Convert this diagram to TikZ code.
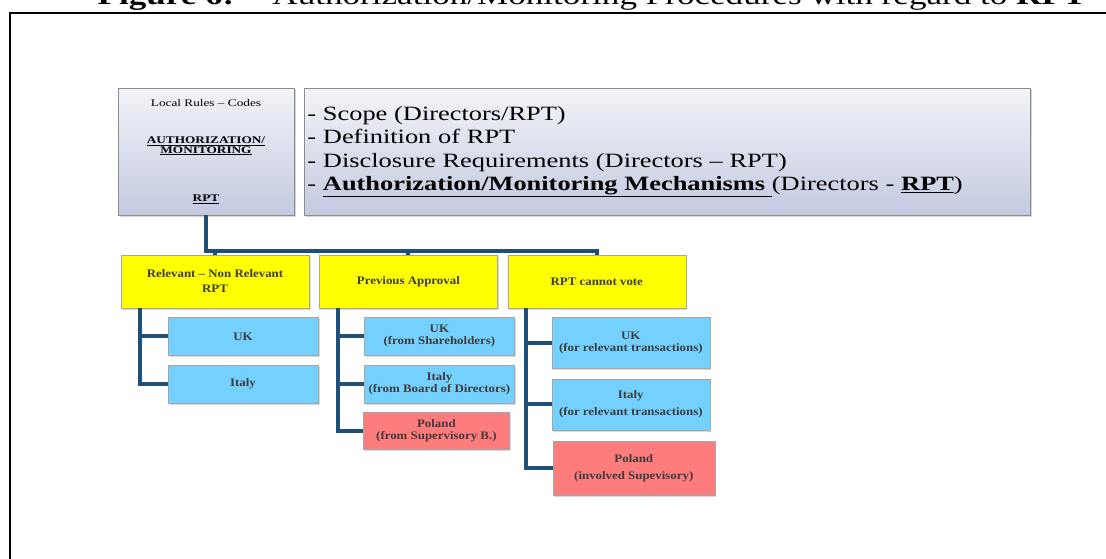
\documentclass[tikz,border=0pt]{standalone}
\usepackage{fontspec}
\setmainfont[FakeStretch=1.3]{Liberation Serif}
\newfontfamily\boxfont[FakeStretch=1.12]{Liberation Serif}
\usetikzlibrary{positioning, shadows}

\definecolor{linkblue}{RGB}{31,78,121}
\definecolor{headfill}{RGB}{255,255,0}
\definecolor{countryfill}{RGB}{116,208,255}
\definecolor{polandfill}{RGB}{255,124,124}
\definecolor{topfill}{RGB}{243,244,249}
\definecolor{bottomfill}{RGB}{195,202,224}
\definecolor{boxtext}{RGB}{60,60,60}

\begin{document}
\begin{tikzpicture}[x=1pt, y=-1pt]

\useasboundingbox (0,0) rectangle (1106,558);
\clip (0,0) rectangle (1106,558);

\tikzstyle{link} = [line width=4pt, draw=linkblue]
\tikzset{topbox/.style = {rectangle, draw=black!45, top color=topfill, bottom color=bottomfill, minimum height=127pt, drop shadow={shadow xshift=1.5pt, shadow yshift=-2pt, opacity=0.35}}, }
\tikzset{headbox/.style = {rectangle, draw=black!35, fill=headfill, text=boxtext, align=center, minimum width=178pt, minimum height=53pt, font=\boxfont\fontsize{11.5}{15}\selectfont\bfseries, drop shadow={shadow xshift=1.5pt, shadow yshift=-2pt, opacity=0.3}}, }
\tikzset{countrybox/.style = {rectangle, draw=black!35, fill=countryfill, text=boxtext, align=center, minimum width=150pt, minimum height=38pt, inner sep=1pt, font=\boxfont\fontsize{11.5}{12}\selectfont\bfseries, drop shadow={shadow xshift=1.5pt, shadow yshift=-2pt, opacity=0.3}}, }
\tikzset{polandbox/.style = {countrybox, fill=polandfill}, }

% frame and caption
\node[anchor=base, font=\fontsize{27}{27}\selectfont] (caption) at (592,4) {\textbf{Figure 6:} – Authorization/Monitoring Procedures with regard to \textbf{RPT}};
\draw[line width=2pt] (10,560) -- (10,13) -- (1108,13);

\node[topbox, minimum width=176pt, align=center, font=\fontsize{10.2}{9.2}\selectfont] (local) at (206,151.5) {Local Rules – Codes\\[28pt]
	\textbf{\underline{AUTHORIZATION/}}\\\textbf{\underline{MONITORING}}\\[39pt]
	\textbf{\underline{RPT}}};
\node[topbox, right=10pt of local, text width=720pt, inner xsep=3pt, align=left, font=\fontsize{20.3}{23.5}\selectfont] (scope) {- Scope (Directors/RPT)\\
	- Definition of RPT\\
	- Disclosure Requirements (Directors – RPT)\\
	- \textbf{\underline{Authorization/Monitoring Mechanisms }}(Directors - \textbf{\underline{RPT}})};

\node[headbox, minimum width=188pt] (Y1) at (215,281.5) {Relevant – Non Relevant\\RPT};
\node[headbox, right=10pt of Y1] (Y2) {Previous Approval};
\node[headbox, right=10pt of Y2] (Y3) {RPT cannot vote};

\node[countrybox, below right=9pt and 47pt of Y1.south west] (A1) {UK};
\node[countrybox, below=9pt of A1] (A2) {Italy};

\node[countrybox, below right=9pt and 45pt of Y2.south west] (B1) {UK\\(from Shareholders)};
\node[countrybox, below=9pt of B1] (B2) {Italy\\(from Board of Directors)};
\node[polandbox, minimum width=146pt, minimum height=37pt, below right=9pt and -1pt of B2.south west] (B3) {Poland\\(from Supervisory B.)};

\node[countrybox, minimum width=158pt, minimum height=51pt, below right=9pt and 44pt of Y3.south west] (C1) {UK\\(for relevant transactions)};
\node[countrybox, minimum width=158pt, minimum height=51pt, below=10pt of C1] (C2) {Italy\\[5pt](for relevant transactions)};
\node[polandbox, minimum width=162pt, minimum height=54pt, below right=11pt and 1pt of C2.south west] (C3) {Poland\\[5pt](involved Supevisory)};

\draw[link] (local.south) |- ([yshift=4pt]Y3.north) -- (Y3.north);
\draw[link] (Y1.north) -- ([yshift=4pt]Y1.north);
\draw[link] (Y2.north) -- ([yshift=4pt]Y2.north);

\draw[link] ([xshift=19pt]Y1.south west) |- (A1.west);
\draw[link] ([xshift=19pt]Y1.south west) |- (A2.west);
\draw[link] ([xshift=19pt]Y2.south west) |- (B1.west);
\draw[link] ([xshift=19pt]Y2.south west) |- (B2.west);
\draw[link] ([xshift=19pt]Y2.south west) |- (B3.west);
\draw[link] ([xshift=18pt]Y3.south west) |- (C1.west);
\draw[link] ([xshift=18pt]Y3.south west) |- (C2.west);
\draw[link] ([xshift=18pt]Y3.south west) |- (C3.west);
\end{tikzpicture}
\end{document}
